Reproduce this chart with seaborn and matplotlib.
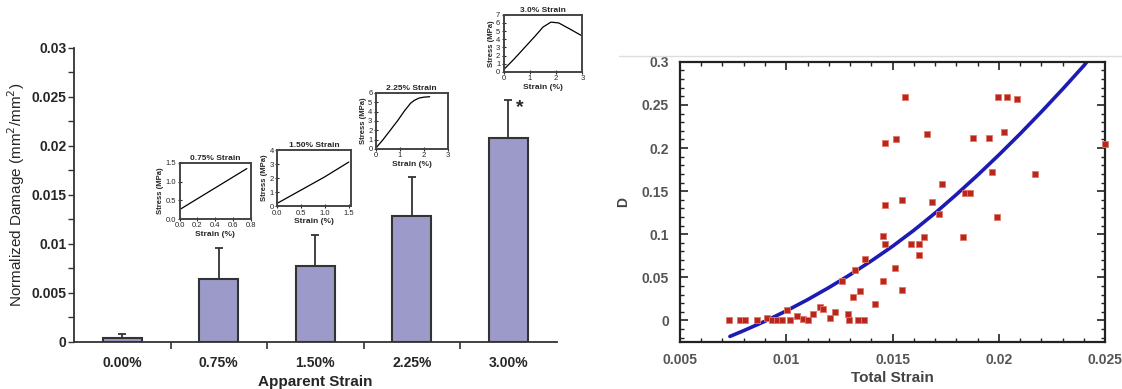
import numpy as np
import seaborn as sns
import matplotlib.pyplot as plt
from matplotlib.ticker import MultipleLocator, FixedLocator
from matplotlib.lines import Line2D

sns.set_style("ticks")
plt.rcParams['font.family'] = ['Liberation Sans', 'DejaVu Sans']

# --- left panel: damage bars ---
strain_labels = ["0.00%", "0.75%", "1.50%", "2.25%", "3.00%"]
damage = [0.00045, 0.0064, 0.0077, 0.0128, 0.0208]
damage_err = [0.00035, 0.0032, 0.0032, 0.0040, 0.0039]
damage_ticks = [0, 0.005, 0.01, 0.015, 0.02, 0.025, 0.03]
damage_ticklabels = ["0", "0.005", "0.01", "0.015", "0.02", "0.025", "0.03"]

# stress-strain insets
ins1_x = [0.0, 0.75]
ins1_y = [0.25, 1.35]
ins2_x = [0.0, 0.5, 1.0, 1.5]
ins2_y = [0.2, 1.15, 2.1, 3.15]
ins3_x = [0.0, 0.3, 0.6, 0.9, 1.2, 1.45, 1.6, 1.8, 2.0, 2.25]
ins3_y = [0.1, 1.0, 2.0, 3.0, 4.1, 4.9, 5.2, 5.45, 5.55, 5.6]
ins4_x = [0.0, 0.4, 0.8, 1.2, 1.5, 1.8, 2.1, 2.5, 3.0]
ins4_y = [0.3, 1.6, 3.0, 4.4, 5.5, 6.1, 6.0, 5.3, 4.4]

# --- right panel: D vs total strain ---
pts_x = [0.00732, 0.00782, 0.00806, 0.00861, 0.00908, 0.00931, 0.00955, 0.00978,
         0.01002, 0.01018, 0.01049, 0.01080, 0.01104, 0.01127, 0.01159, 0.01171,
         0.01206, 0.01229, 0.01292, 0.01297, 0.01339, 0.01366, 0.01261, 0.01316,
         0.01324, 0.01347, 0.01371, 0.01418, 0.01457, 0.01457, 0.01465, 0.01466,
         0.01465, 0.01512, 0.01515, 0.01545, 0.01546, 0.01559, 0.01585, 0.01626,
         0.01626, 0.01648, 0.01661, 0.01687, 0.01719, 0.01731, 0.01833, 0.01841,
         0.01865, 0.01877, 0.01954, 0.01970, 0.01990, 0.01998, 0.02037, 0.02022,
         0.02084, 0.02171, 0.02500]
pts_y = [0.0, 0.0, 0.0, 0.0, 0.0031, 0.0008, 0.0008, 0.0,
         0.0124, 0.0, 0.0046, 0.0019, 0.0, 0.0077, 0.0155, 0.0135,
         0.0031, 0.0097, 0.0077, 0.0008, 0.0, 0.0, 0.0457, 0.0271,
         0.058, 0.0341, 0.0708, 0.0186, 0.0457, 0.0979, 0.0882, 0.1335,
         0.2063, 0.0611, 0.2109, 0.1393, 0.0348, 0.2593, 0.0882, 0.0882,
         0.0755, 0.0968, 0.2167, 0.1374, 0.1238, 0.1579, 0.0968, 0.1478,
         0.1478, 0.2117, 0.2117, 0.1722, 0.1200, 0.2593, 0.2593, 0.2187,
         0.2574, 0.1703, 0.2051]
fit_x = [0.00735, 0.008, 0.009, 0.010, 0.011, 0.012, 0.013, 0.014, 0.015,
         0.016, 0.017, 0.018, 0.019, 0.020, 0.021, 0.022, 0.023, 0.024, 0.02414]
fit_y = [-0.0186, -0.0119, -0.0010, 0.0110, 0.0240, 0.0380, 0.0530, 0.0690, 0.0860,
         0.1045, 0.1245, 0.1460, 0.1685, 0.1920, 0.2165, 0.2420, 0.2684, 0.2957, 0.300]
total_ticks = [0.005, 0.01, 0.015, 0.02, 0.025]
total_ticklabels = ["0.005", "0.01", "0.015", "0.02", "0.025"]
d_ticks = [0, 0.05, 0.1, 0.15, 0.2, 0.25, 0.3]
d_ticklabels = ["0", "0.05", "0.1", "0.15", "0.2", "0.25", "0.3"]

fig = plt.figure(figsize=(11.22, 3.89), dpi=100)

# left bar chart
ax = fig.add_axes([0.066, 0.121, 0.430, 0.756])
sns.barplot(x=strain_labels, y=damage, color="#9c9ac9", saturation=1,
            edgecolor="#333333", linewidth=1.5, width=0.4, ax=ax)
pos = np.arange(len(damage))
tops = np.array(damage) + np.array(damage_err)
ax.vlines(pos, damage, tops, color="#333333", lw=1.3)
ax.hlines(tops, pos - 0.04, pos + 0.04, color="#333333", lw=1.3)
ax.text(pos[-1] + 0.12, tops[-1] - 0.0008, "*", fontsize=14, fontweight="bold",
        ha="center", va="center")
ax.set_xlim(-0.5, 4.5)
ax.set_ylim(0, 0.03)
ax.set_yticks(damage_ticks)
ax.set_yticklabels(damage_ticklabels)
ax.yaxis.set_minor_locator(MultipleLocator(0.0025))
ax.xaxis.set_minor_locator(FixedLocator(pos[:-1] + 0.5))
ax.tick_params(axis="x", which="major", length=0, pad=10)
ax.tick_params(axis="x", which="minor", length=5, width=1.2, color="#333333")
ax.tick_params(axis="y", which="both", length=4, width=1.0, color="#333333", pad=1.5)
for lbl in ax.get_xticklabels() + ax.get_yticklabels():
    lbl.set_fontsize(10)
    lbl.set_fontweight("bold")
for s in ["left", "bottom"]:
    ax.spines[s].set_linewidth(1.3)
    ax.spines[s].set_color("#333333")
sns.despine(ax=ax)
ax.set_xlabel("Apparent Strain", fontsize=11, fontweight="bold", labelpad=4)
ax.set_ylabel("Normalized Damage (mm$^2$/mm$^2$)", fontsize=11, labelpad=3)


def inset(rect, xs, ys, title, xlim, ylim, xticks, yticks, xfmt, yfmt):
    ia = fig.add_axes(rect)
    sns.lineplot(x=xs, y=ys, color="black", lw=0.9, ax=ia)
    ia.set_xlim(xlim)
    ia.set_ylim(ylim)
    ia.set_xticks(xticks)
    ia.set_xticklabels([xfmt.format(v) for v in xticks])
    ia.set_yticks(yticks)
    ia.set_yticklabels([yfmt.format(v) for v in yticks])
    ia.tick_params(direction="inout", length=3, width=0.8, labelsize=5.5, pad=1)
    for s in ia.spines.values():
        s.set_linewidth(1.4)
        s.set_color("#444444")
    ia.set_title(title, fontsize=6, fontweight="bold", pad=2)
    ia.set_xlabel("Strain (%)", fontsize=6, fontweight="bold", labelpad=1)
    ia.set_ylabel("Stress (MPa)", fontsize=5.5, fontweight="bold", labelpad=1)
    return ia


inset([0.160, 0.437, 0.064, 0.144], ins1_x, ins1_y, "0.75% Strain", (0, 0.8), (0, 1.5),
      [0, 0.2, 0.4, 0.6, 0.8], [0, 0.5, 1.0, 1.5], "{:.1f}", "{:.1f}")
inset([0.247, 0.470, 0.066, 0.144], ins2_x, ins2_y, "1.50% Strain", (0, 1.55), (0, 4),
      [0, 0.5, 1.0, 1.5], [0, 1, 2, 3, 4], "{:.1f}", "{:d}")
inset([0.335, 0.617, 0.064, 0.144], ins3_x, ins3_y, "2.25% Strain", (0, 3), (0, 6),
      [0, 1, 2, 3], [0, 1, 2, 3, 4, 5, 6], "{:d}", "{:d}")
inset([0.449, 0.815, 0.070, 0.147], ins4_x, ins4_y, "3.0% Strain", (0, 3), (0, 7),
      [0, 1, 2, 3], [0, 1, 2, 3, 4, 5, 6, 7], "{:d}", "{:d}")

# right scatter + fit
ax2 = fig.add_axes([0.606, 0.121, 0.379, 0.720])
sns.lineplot(x=fit_x, y=fit_y, color="#1c1cb4", lw=2.6, sort=False, ax=ax2)
sns.scatterplot(x=pts_x, y=pts_y, marker="s", s=13, color="#b8261c",
                edgecolor="#e07868", linewidth=0.6, ax=ax2, clip_on=False, zorder=3)
ax2.set_xlim(0.005, 0.025)
ax2.set_ylim(-0.025, 0.3)
ax2.set_xticks(total_ticks)
ax2.set_xticklabels(total_ticklabels)
ax2.set_yticks(d_ticks)
ax2.set_yticklabels(d_ticklabels)
ax2.xaxis.set_minor_locator(MultipleLocator(0.001))
ax2.yaxis.set_minor_locator(MultipleLocator(0.01))
ax2.tick_params(which="both", direction="in", top=True, right=True, color="#222222")
ax2.tick_params(which="major", length=6, width=1.2, labelsize=10, labelcolor="#555555", pad=8)
ax2.tick_params(which="minor", length=3, width=1.0)
for lbl in ax2.get_xticklabels() + ax2.get_yticklabels():
    lbl.set_fontweight("bold")
for s in ax2.spines.values():
    s.set_linewidth(1.6)
    s.set_color("#222222")
ax2.set_xlabel("Total Strain", fontsize=11, fontweight="bold", color="#444444", labelpad=3)
ax2.set_ylabel("D", fontsize=10, fontweight="bold", color="#444444", labelpad=8)

fig.add_artist(Line2D([0.552, 1.0], [0.856, 0.856], color="#dddddd", lw=1.0))

fig.savefig("out.png", dpi=100)
